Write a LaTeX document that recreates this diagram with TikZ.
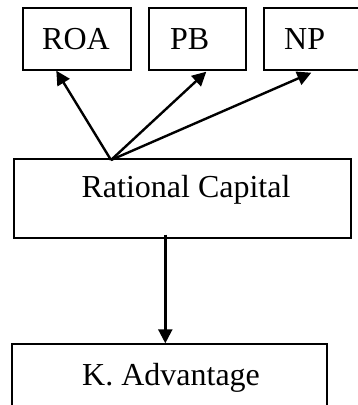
\documentclass[tikz,border=0pt]{standalone}
\usepackage{fontspec}
\setmainfont{Liberation Serif}
\usetikzlibrary{arrows.meta,calc}
\tikzset{
  box/.style={draw, line width=1.4pt, rectangle, inner sep=0pt},
  lbl/.style={font=\fontsize{32}{38}\selectfont, inner sep=0pt},
  link/.style={line width=2.4pt, -{Triangle[length=14pt,width=14pt]}}
}
\begin{document}
\begin{tikzpicture}[x=1pt,y=-1pt]
  \useasboundingbox (0,0) rectangle (358,405);
  \clip (0,0) rectangle (358,405);
  % indicator boxes
  \node[box, minimum width=108pt, minimum height=62pt] (roa) at (77,39) {};
  \node[box, minimum width=97pt, minimum height=62pt] (pb) at (197.5,39) {};
  \node[box, minimum width=108pt, minimum height=62pt] (np) at (318,39) {};
  \node[lbl, anchor=base west] (roat) at (42,49) {ROA};
  \node[lbl, anchor=base west] (pbt) at (170,49) {PB};
  \node[lbl, anchor=base west] (npt) at (284,49) {NP};
  % central box
  \node[box, minimum width=337pt, minimum height=79pt] (rc) at (182.5,198.5) {};
  \node[lbl, anchor=base] (rct) at (186,197) {Rational Capital};
  % outcome box
  \node[box, minimum width=315pt, minimum height=80pt] (ka) at (169.5,384) {};
  \node[lbl, anchor=base west] (kat) at (82,385) {K. Advantage};
  % connectors
  \coordinate (fan) at (111,160);
  \draw[link] (fan) -- ($(roa.south west)+(34,0)$);
  \draw[link] (fan) -- ($(pb.south west)+(58,1)$);
  \draw[link] (fan) -- ($(np.south west)+(48,2)$);
  \draw[link] ($(rc.south west)+(152,-4)$) -- ($(ka.north west)+(154,0)$);
\end{tikzpicture}
\end{document}
